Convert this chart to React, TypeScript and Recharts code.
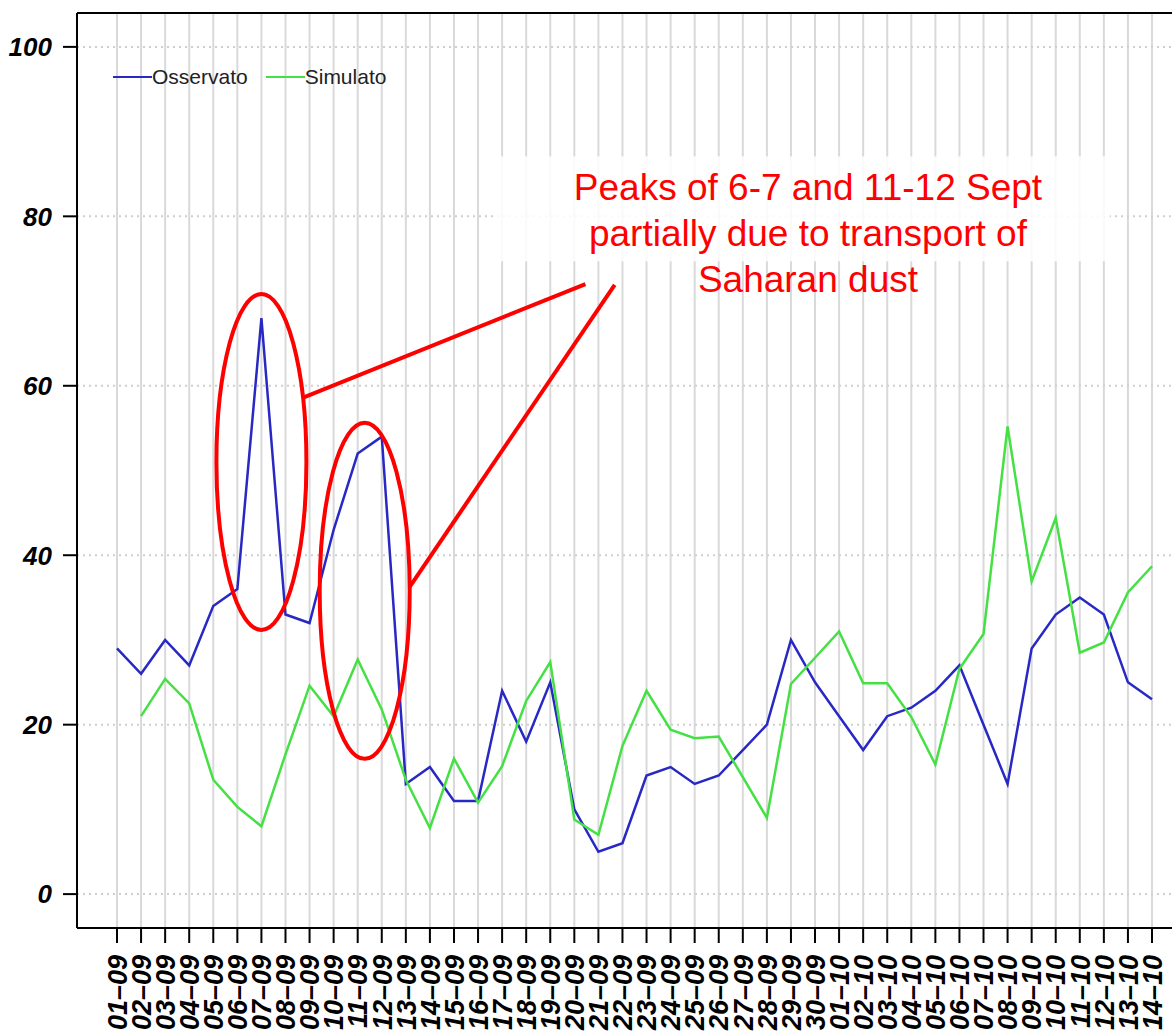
import React from 'react';
import {
  LineChart,
  Line,
  XAxis,
  YAxis,
  CartesianGrid,
  ReferenceLine,
  ReferenceDot,
} from 'recharts';

const dates = [
  '01–09', '02–09', '03–09', '04–09', '05–09', '06–09', '07–09', '08–09', '09–09', '10–09',
  '11–09', '12–09', '13–09', '14–09', '15–09', '16–09', '17–09', '18–09', '19–09', '20–09',
  '21–09', '22–09', '23–09', '24–09', '25–09', '26–09', '27–09', '28–09', '29–09', '30–09',
  '01–10', '02–10', '03–10', '04–10', '05–10', '06–10', '07–10', '08–10', '09–10', '10–10',
  '11–10', '12–10', '13–10', '14–10',
];

const observed = [
  29, 26, 30, 27, 34, 36, 68, 33, 32, 43,
  52, 54, 13, 15, 11, 11, 24, 18, 25, 10,
  5, 6, 14, 15, 13, 14, 17, 20, 30, 25,
  21, 17, 21, 22, 24, 27, 20, 13, 29, 33,
  35, 33, 25, 23,
];

const simulated = [
  null, 21, 25.4, 22.5, 13.5, 10.3, 8, 16.5, 24.6, 21,
  27.7, 21.8, 13.5, 7.8, 16, 10.8, 15.1, 22.8, 27.4, 8.8,
  7, 17.5, 24, 19.4, 18.4, 18.6, 13.8, 9, 24.8, 27.9,
  31, 24.9, 24.9, 20.9, 15.3, 26.6, 30.7, 55.2, 36.9, 44.4,
  28.5, 29.7, 35.6, 38.7,
];

const yTicks = [0, 20, 40, 60, 80, 100];
const seriesNames = ['Osservato', 'Simulato'];
const annotationLines = [
  'Peaks of 6-7 and 11-12 Sept',
  'partially due to transport of',
  'Saharan dust',
];

const BLUE = '#2828c4';
const GREEN = '#44e044';
const RED = '#ff0000';
const FONT = '"Liberation Sans", Arial, Helvetica, sans-serif';
const seriesColors = [BLUE, GREEN];

const data = dates.map((d, i) => ({ date: d, obs: observed[i], sim: simulated[i] }));

const YTick = (props: any) => {
  const { x, y, payload } = props;
  return (
    <text
      x={x}
      y={y}
      dy="0.36em"
      textAnchor="end"
      fontFamily={FONT}
      fontWeight="bold"
      fontStyle="italic"
      fontSize={26}
      fill="#000"
    >
      {payload.value}
    </text>
  );
};

const XTick = (props: any) => {
  const { x, y, payload } = props;
  return (
    <g transform={`translate(${x},${y})`}>
      <text
        transform="rotate(-90)"
        textAnchor="end"
        dy="0.36em"
        fontFamily={FONT}
        fontWeight="bold"
        fontStyle="italic"
        fontSize={27}
        fill="#000"
      >
        {payload.value}
      </text>
    </g>
  );
};

const LegendBox = () => (
  <div
    style={{
      position: 'absolute',
      left: 113,
      top: 65,
      display: 'flex',
      alignItems: 'center',
      fontFamily: FONT,
      fontSize: 21,
      color: '#222',
      whiteSpace: 'nowrap',
      lineHeight: '24px',
    }}
  >
    {seriesNames.map((n, i) => (
      <div key={n} style={{ display: 'flex', alignItems: 'center', marginRight: 18 }}>
        <span style={{ display: 'inline-block', width: 39, height: 2, background: seriesColors[i] }} />
        <span>{n}</span>
      </div>
    ))}
  </div>
);

const Ellipse1 = (props: any) => {
  const { cx, cy } = props;
  return (
    <g>
      <ellipse cx={cx} cy={cy} rx={45} ry={168} fill="none" stroke={RED} strokeWidth={4} />
      <line x1={cx + 43} y1={cy - 65} x2={cx + 324} y2={cy - 178} stroke={RED} strokeWidth={4} />
    </g>
  );
};

const Ellipse2 = (props: any) => {
  const { cx, cy } = props;
  return (
    <g>
      <ellipse cx={cx + 7} cy={cy} rx={45} ry={168} fill="none" stroke={RED} strokeWidth={4} />
      <line x1={cx + 52} y1={cy - 4} x2={cx + 257} y2={cy - 306} stroke={RED} strokeWidth={4} />
    </g>
  );
};

const NoteBox = (props: any) => {
  const { cx, cy } = props;
  return (
    <g>
      <rect x={cx - 296} y={cy - 60} width={615} height={105} fill="#fff" fillOpacity={0.85} />
      {annotationLines.map((t, i) => (
        <text
          key={i}
          x={cx + 17}
          y={cy - 16 + i * 46}
          textAnchor="middle"
          fontFamily={FONT}
          fontSize={37}
          fill={RED}
        >
          {t}
        </text>
      ))}
    </g>
  );
};

export default function App() {
  return (
    <div style={{ position: 'absolute', left: 0, top: 0, width: 1172, height: 1033, overflow: 'hidden', background: '#fff' }}>
      <LineChart width={1185} height={1033} data={data} margin={{ top: 13, right: 0, bottom: 0, left: 0 }}>
        <CartesianGrid vertical horizontal={false} stroke="#d9d9d9" strokeWidth={2} />
        <CartesianGrid vertical={false} horizontal stroke="#cfcfcf" strokeDasharray="2 4" strokeWidth={2} />
        <XAxis
          dataKey="date"
          interval={0}
          padding={{ left: 40, right: 33 }}
          height={105}
          tickSize={15}
          tickMargin={12}
          tick={<XTick />}
          axisLine={{ stroke: '#000', strokeWidth: 2 }}
          tickLine={{ stroke: '#000', strokeWidth: 2 }}
        />
        <YAxis
          width={77}
          domain={[-4, 104]}
          ticks={yTicks}
          tickSize={14}
          tickMargin={11}
          tick={<YTick />}
          axisLine={{ stroke: '#000', strokeWidth: 2 }}
          tickLine={{ stroke: '#000', strokeWidth: 2 }}
        />
        <ReferenceLine y={104} stroke="#000" strokeWidth={2} />
        <Line
          type="linear"
          dataKey="obs"
          name={seriesNames[0]}
          stroke={BLUE}
          strokeWidth={2.5}
          dot={false}
          isAnimationActive={false}
        />
        <Line
          type="linear"
          dataKey="sim"
          name={seriesNames[1]}
          stroke={GREEN}
          strokeWidth={2.5}
          dot={false}
          isAnimationActive={false}
        />
        <ReferenceDot x="07–09" y={51} r={0} shape={<Ellipse1 />} />
        <ReferenceDot x="11–09" y={35.8} r={0} shape={<Ellipse2 />} />
        <ReferenceDot x="29–09" y={80} r={0} shape={<NoteBox />} />
      </LineChart>
      <LegendBox />
    </div>
  );
}
